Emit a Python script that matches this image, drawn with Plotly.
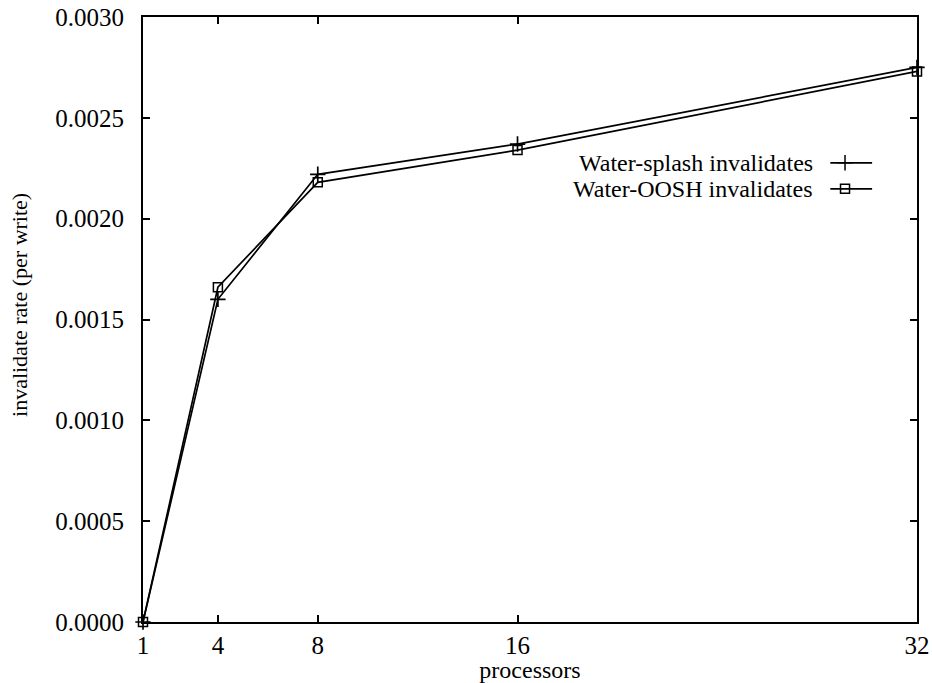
import plotly.graph_objects as go

# Invalidate rate per write versus number of processors
processors = [1, 4, 8, 16, 32]
splash_rate = [0.0, 0.00160, 0.00222, 0.00237, 0.00275]
oosh_rate = [0.0, 0.00166, 0.00218, 0.00234, 0.00273]

series_names = ["Water-splash invalidates", "Water-OOSH invalidates"]
y_ticks = [0.0, 0.0005, 0.0010, 0.0015, 0.0020, 0.0025, 0.0030]
x_ticks = [1, 4, 8, 16, 32]

FONT = "Liberation Serif, Times New Roman, serif"
INK = "black"

fig = go.Figure()

fig.add_trace(go.Scatter(
    x=processors, y=splash_rate, mode="lines+markers", name=series_names[0],
    line=dict(color=INK, width=1.7),
    marker=dict(symbol="cross-thin-open", size=11, line=dict(color=INK, width=1.7)),
    cliponaxis=False, showlegend=False,
))
fig.add_trace(go.Scatter(
    x=processors, y=oosh_rate, mode="lines+markers", name=series_names[1],
    line=dict(color=INK, width=1.7),
    marker=dict(symbol="square-open", size=9, color=INK, line=dict(color=INK, width=1.5)),
    cliponaxis=False, showlegend=False,
))

# Key drawn in the gnuplot style: label on the left, sample line on the right
key_rows = [0.759, 0.716]
key_text_x = 0.868
key_line = [0.888, 0.942]
key_mark = 0.907
symbols = [("cross-thin-open", 11), ("square-open", 9)]
for (sym, size), row, name in zip(symbols, key_rows, series_names):
    fig.add_trace(go.Scatter(
        x=key_line, y=[row, row], mode="lines", xaxis="x2", yaxis="y2",
        line=dict(color=INK, width=1.7), showlegend=False, hoverinfo="skip",
    ))
    fig.add_trace(go.Scatter(
        x=[key_mark], y=[row], mode="markers", xaxis="x2", yaxis="y2",
        marker=dict(symbol=sym, size=size, color=INK, line=dict(color=INK, width=1.5)),
        showlegend=False, hoverinfo="skip",
    ))
    fig.add_annotation(
        x=key_text_x, y=row, xref="x2", yref="y2", text=name, showarrow=False,
        xanchor="right", yanchor="middle", font=dict(family=FONT, size=24, color=INK),
    )

# Rotated y-axis caption
fig.add_annotation(
    x=0, y=0.524, xref="paper", yref="paper", xshift=-123,
    text="invalidate rate (per write)", textangle=-90, showarrow=False,
    xanchor="center", yanchor="middle", font=dict(family=FONT, size=22, color=INK),
)

axis_common = dict(
    showline=True, linecolor=INK, linewidth=2, mirror="ticks",
    ticks="inside", ticklen=7, tickwidth=1.5, tickcolor=INK,
    showgrid=False, zeroline=False, automargin=False,
    tickfont=dict(family=FONT, size=25, color=INK),
)

fig.update_layout(
    width=932, height=683,
    margin=dict(l=143, r=15, t=17, b=61),
    paper_bgcolor="white", plot_bgcolor="white",
    font=dict(family=FONT, color=INK),
    xaxis=dict(
        range=[1, 32], tickvals=x_ticks, ticktext=[str(v) for v in x_ticks],
        title=dict(text="processors", font=dict(family=FONT, size=24), standoff=0),
        **axis_common,
    ),
    yaxis=dict(
        range=[0, 0.003], tickvals=y_ticks, ticktext=[f"{v:.4f}" for v in y_ticks],
        ticklabelstandoff=12,
        **axis_common,
    ),
    xaxis2=dict(overlaying="x", range=[0, 1], visible=False),
    yaxis2=dict(overlaying="y", range=[0, 1], visible=False),
)

fig.write_html("out.html")
